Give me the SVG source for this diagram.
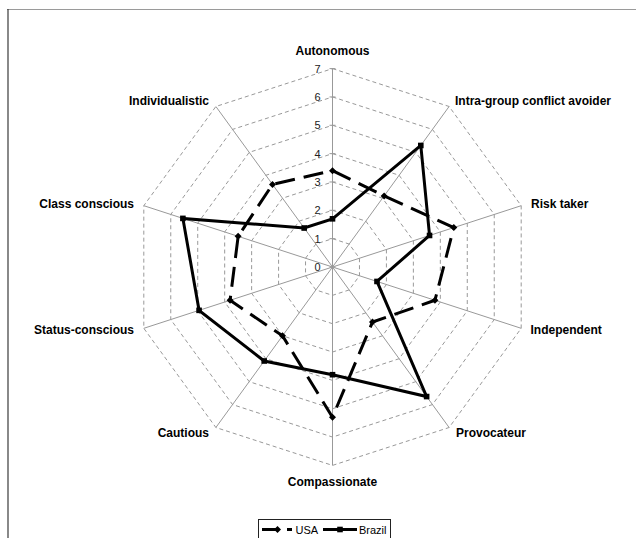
<svg xmlns="http://www.w3.org/2000/svg" width="636" height="538" viewBox="0 0 636 538">
<style>
.grid{fill:none;stroke:#999;stroke-width:1;stroke-dasharray:4 3}
.axis{stroke:#999;stroke-width:1}
.tick{font-family:"Liberation Sans",Arial,sans-serif;font-size:11px;fill:#222;text-anchor:end}
.lbl{font-family:"Liberation Sans",Arial,sans-serif;font-size:12px;font-weight:bold;fill:#000}
.usa{fill:none;stroke:#000;stroke-width:3;stroke-dasharray:20 9;stroke-linejoin:miter}
.bra{fill:none;stroke:#000;stroke-width:3;stroke-linejoin:miter}
.leg{font-family:"Liberation Sans",Arial,sans-serif;font-size:11px;fill:#000}
</style>
<defs>
<path id="dia" d="M0,-3.5L3.5,0L0,3.5L-3.5,0Z" fill="#000"/>
<rect id="sq" x="-2.8" y="-2.8" width="5.6" height="5.6" fill="#000"/>
</defs>
<rect width="636" height="538" fill="#fff"/>
<line x1="7" y1="9.5" x2="636" y2="9.5" stroke="#9a9a9a" stroke-width="1.2"/>
<line x1="8" y1="9" x2="8" y2="538" stroke="#3a3a3a" stroke-width="1.2"/>

<g id="chart" transform="translate(332.5,267)">
<g id="gridlines">
<polygon class="grid" points="0,-28.34 16.66,-22.93 26.96,-8.76 26.96,8.76 16.66,22.93 0,28.34 -16.66,22.93 -26.96,8.76 -26.96,-8.76 -16.66,-22.93"/>
<polygon class="grid" points="0,-56.69 33.32,-45.86 53.91,-17.52 53.91,17.52 33.32,45.86 0,56.69 -33.32,45.86 -53.91,17.52 -53.91,-17.52 -33.32,-45.86"/>
<polygon class="grid" points="0,-85.03 49.98,-68.79 80.87,-26.27 80.87,26.27 49.98,68.79 0,85.03 -49.98,68.79 -80.87,26.27 -80.87,-26.27 -49.98,-68.79"/>
<polygon class="grid" points="0,-113.37 66.64,-91.72 107.82,-35.03 107.82,35.03 66.64,91.72 0,113.37 -66.64,91.72 -107.82,35.03 -107.82,-35.03 -66.64,-91.72"/>
<polygon class="grid" points="0,-141.72 83.30,-114.65 134.78,-43.79 134.78,43.79 83.30,114.65 0,141.72 -83.30,114.65 -134.78,43.79 -134.78,-43.79 -83.30,-114.65"/>
<polygon class="grid" points="0,-170.06 99.96,-137.58 161.74,-52.55 161.74,52.55 99.96,137.58 0,170.06 -99.96,137.58 -161.74,52.55 -161.74,-52.55 -99.96,-137.58"/>
<polygon class="grid" points="0,-198.4 116.62,-160.51 188.69,-61.31 188.69,61.31 116.62,160.51 0,198.4 -116.62,160.51 -188.69,61.31 -188.69,-61.31 -116.62,-160.51"/>
</g>
<g id="axes">
<line class="axis" x1="0" y1="0" x2="0" y2="-198.4"/>
<line class="axis" x1="0" y1="0" x2="116.62" y2="-160.51"/>
<line class="axis" x1="0" y1="0" x2="188.69" y2="-61.31"/>
<line class="axis" x1="0" y1="0" x2="188.69" y2="61.31"/>
<line class="axis" x1="0" y1="0" x2="116.62" y2="160.51"/>
<line class="axis" x1="0" y1="0" x2="0" y2="198.4"/>
<line class="axis" x1="0" y1="0" x2="-116.62" y2="160.51"/>
<line class="axis" x1="0" y1="0" x2="-188.69" y2="61.31"/>
<line class="axis" x1="0" y1="0" x2="-188.69" y2="-61.31"/>
<line class="axis" x1="0" y1="0" x2="-116.62" y2="-160.51"/>
<path class="axis" d="M-3,0H3M-3,-28.34H3M-3,-56.69H3M-3,-85.03H3M-3,-113.37H3M-3,-141.72H3M-3,-170.06H3M-3,-198.4H3"/>
</g>
<g id="ticks">
<text class="tick" x="-12" y="4">0</text>
<text class="tick" x="-12" y="-24.3">1</text>
<text class="tick" x="-12" y="-52.7">2</text>
<text class="tick" x="-12" y="-81">3</text>
<text class="tick" x="-12" y="-109.4">4</text>
<text class="tick" x="-12" y="-137.7">5</text>
<text class="tick" x="-12" y="-166">6</text>
<text class="tick" x="-12" y="-194.4">7</text>
</g>
<g id="connectors">
<polygon id="usa" class="usa" points="0,-96.37 51.65,-71.08 121.30,-39.41 102.43,33.28 39.98,55.03 0,150.22 -49.98,68.79 -102.43,33.28 -94.35,-30.65 -59.98,-82.55"/>
<polygon id="brazil" class="bra" points="0,-48.18 88.30,-121.53 97.04,-31.53 44.48,14.45 94.13,129.55 0,107.70 -68.31,94.01 -133.43,43.35 -149.61,-48.61 -28.32,-38.98"/>
</g>
<g id="usa-markers">
<use href="#dia" x="0" y="-96.37"/><use href="#dia" x="51.65" y="-71.08"/><use href="#dia" x="121.30" y="-39.41"/><use href="#dia" x="102.43" y="33.28"/><use href="#dia" x="39.98" y="55.03"/><use href="#dia" x="0" y="150.22"/><use href="#dia" x="-49.98" y="68.79"/><use href="#dia" x="-102.43" y="33.28"/><use href="#dia" x="-94.35" y="-30.65"/><use href="#dia" x="-59.98" y="-82.55"/>
</g>
<g id="brazil-markers">
<use href="#sq" x="0" y="-48.18"/><use href="#sq" x="88.30" y="-121.53"/><use href="#sq" x="97.04" y="-31.53"/><use href="#sq" x="44.48" y="14.45"/><use href="#sq" x="94.13" y="129.55"/><use href="#sq" x="0" y="107.70"/><use href="#sq" x="-68.31" y="94.01"/><use href="#sq" x="-133.43" y="43.35"/><use href="#sq" x="-149.61" y="-48.61"/><use href="#sq" x="-28.32" y="-38.98"/>
</g>
</g>

<g id="labels">
<text class="lbl" x="332.5" y="55" text-anchor="middle">Autonomous</text>
<text class="lbl" x="455" y="105">Intra-group conflict avoider</text>
<text class="lbl" x="531" y="207.5">Risk taker</text>
<text class="lbl" x="530.5" y="334">Independent</text>
<text class="lbl" x="456" y="436.5">Provocateur</text>
<text class="lbl" x="332.5" y="485.5" text-anchor="middle">Compassionate</text>
<text class="lbl" x="209" y="436.5" text-anchor="end">Cautious</text>
<text class="lbl" x="134" y="334" text-anchor="end">Status-conscious</text>
<text class="lbl" x="134" y="207.5" text-anchor="end">Class conscious</text>
<text class="lbl" x="209" y="105" text-anchor="end">Individualistic</text>
</g>

<g id="legend">
<rect x="258.5" y="519.5" width="132" height="30" fill="none" stroke="#222" stroke-width="1"/>
<path d="M262,529.5H277M287,529.5H292" stroke="#000" stroke-width="3" fill="none"/>
<use href="#dia" x="277.5" y="529.5"/>
<text class="leg" x="295.5" y="533.5">USA</text>
<path d="M323,529.5H357" stroke="#000" stroke-width="3" fill="none"/>
<use href="#sq" x="340" y="529.5"/>
<text class="leg" x="359" y="533.5">Brazil</text>
</g>
</svg>
